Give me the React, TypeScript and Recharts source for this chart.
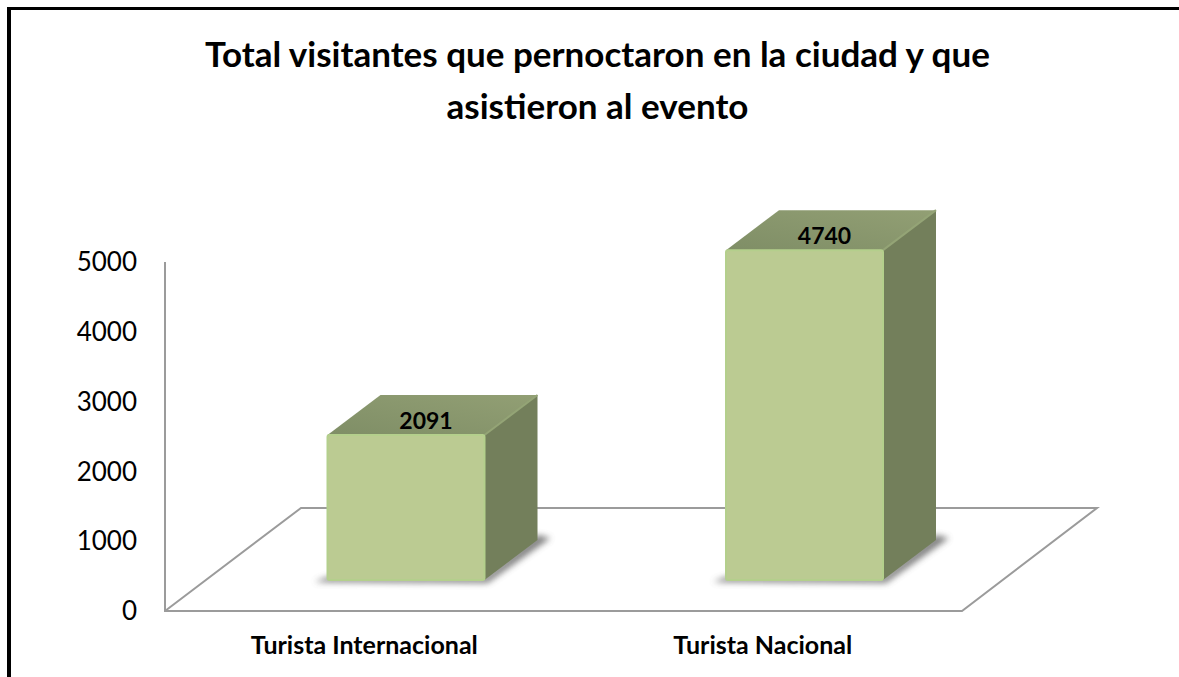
import { BarChart, Bar, XAxis, YAxis, LabelList, ReferenceArea } from "recharts";

const categories = ["Turista Internacional", "Turista Nacional"];
const visitantes = [2091, 4740];
const yTicks = [0, 1000, 2000, 3000, 4000, 5000];
const titleLines = ["Total visitantes que pernoctaron en la ciudad y que", "asistieron al evento"];

const chartData = categories.map((name, i) => ({ name, visitantes: visitantes[i] }));

const FONT = "Lato, Carlito, Calibri, sans-serif";

// fake 3D: the front face sits up and to the right of the band
const SHIFT_X = 41.5;
const FLOOR_UP = 30;
const DEPTH_X = 53;
const DEPTH_Y = 40;
const BAR_W = 157;

const Box = (props: any) => {
  const { x, y, width, height } = props;
  const left = x + width / 2 + SHIFT_X - BAR_W / 2;
  const right = left + BAR_W;
  const top = y - FLOOR_UP;
  const bottom = top + height - 1;
  return (
    <g>
      <polygon
        points={`${left - 13},${bottom + 2} ${right + 3},${bottom + 3} ${right + DEPTH_X + 13},${bottom - DEPTH_Y - 2} ${right + DEPTH_X},${bottom - DEPTH_Y - 5} ${right},${bottom - 3} ${left},${bottom - 3}`}
        fill="#555"
        opacity={0.75}
        filter="url(#boxShadow)"
      />
      <polygon
        points={`${left},${top} ${left + DEPTH_X},${top - DEPTH_Y} ${right + DEPTH_X},${top - DEPTH_Y} ${right},${top}`}
        fill="url(#topFace)"
      />
      <polygon
        points={`${right},${top} ${right + DEPTH_X},${top - DEPTH_Y} ${right + DEPTH_X},${bottom - DEPTH_Y} ${right},${bottom}`}
        fill="#737f5b"
      />
      <line x1={right} y1={top} x2={right + DEPTH_X} y2={top - DEPTH_Y} stroke="#94a476" strokeWidth={2} />
      <rect x={left} y={top} width={BAR_W} height={bottom - top} fill="#bbcb92" stroke="#b4cf8c" strokeWidth={2} rx={2} />
    </g>
  );
};

const Floor = (props: any) => {
  const { x, y, width, height } = props;
  const bottom = y + height;
  return (
    <g fill="none" stroke="#9b9b9b" strokeWidth={2}>
      <polyline
        points={`${x},${y} ${x},${bottom} ${x + width},${bottom} ${x + width + 135},${bottom - 103} ${x + 136},${bottom - 103} ${x},${bottom}`}
      />
    </g>
  );
};

const ValueLabel = (props: any) => {
  const { x, y, width, value } = props;
  return (
    <text
      x={x + width / 2 + SHIFT_X + 20}
      y={y - FLOOR_UP - 15}
      textAnchor="middle"
      dominantBaseline="central"
      fontFamily={FONT}
      fontWeight={700}
      fontSize={23}
      fill="#000"
    >
      {value}
    </text>
  );
};

export default function App() {
  return (
    <div style={{ position: "absolute", left: 0, top: 0, width: 1179, height: 677, background: "#fff", overflow: "hidden" }}>
      <div style={{ position: "absolute", left: 7, top: 7, width: 1200, height: 700, borderLeft: "4px solid #000", borderTop: "3px solid #000", boxSizing: "border-box" }} />
      <div
        style={{
          position: "absolute",
          left: 0,
          top: 27,
          width: 1195,
          textAlign: "center",
          fontFamily: FONT,
          fontWeight: 700,
          fontSize: 35,
          lineHeight: "52px",
          color: "#000",
        }}
      >
        {titleLines.map((line) => (
          <div key={line}>{line}</div>
        ))}
      </div>
      <svg width={0} height={0} style={{ position: "absolute" }}>
        <defs>
          <filter id="boxShadow" x="-20%" y="-50%" width="140%" height="200%">
            <feGaussianBlur stdDeviation="3" />
          </filter>
          <linearGradient id="topFace" x1="0" y1="1" x2="1" y2="0">
            <stop offset="0%" stopColor="#7f8e66" />
            <stop offset="100%" stopColor="#929f74" />
          </linearGradient>
        </defs>
      </svg>
      <div style={{ position: "absolute", left: 0, top: 0 }}>
        <BarChart
          width={1179}
          height={677}
          data={chartData}
          margin={{ top: 262, right: 217, bottom: 0, left: 0 }}
          barCategoryGap={0}
          style={{ overflow: "visible" }}
        >
          <ReferenceArea y1={0} y2={5000} shape={<Floor />} fill="none" />
          <XAxis
            dataKey="name"
            axisLine={false}
            tickLine={false}
            height={66}
            tickMargin={19}
            tick={{ fontFamily: FONT, fontWeight: 700, fontSize: 25, fill: "#000" }}
          />
          <YAxis
            domain={[0, 5000]}
            ticks={yTicks}
            width={165}
            axisLine={false}
            tickLine={false}
            tickMargin={22}
            tick={{ fontFamily: FONT, fontSize: 26, fill: "#000" }}
          />
          <Bar dataKey="visitantes" isAnimationActive={false} shape={<Box />}>
            <LabelList dataKey="visitantes" content={<ValueLabel />} />
          </Bar>
        </BarChart>
      </div>
    </div>
  );
}
